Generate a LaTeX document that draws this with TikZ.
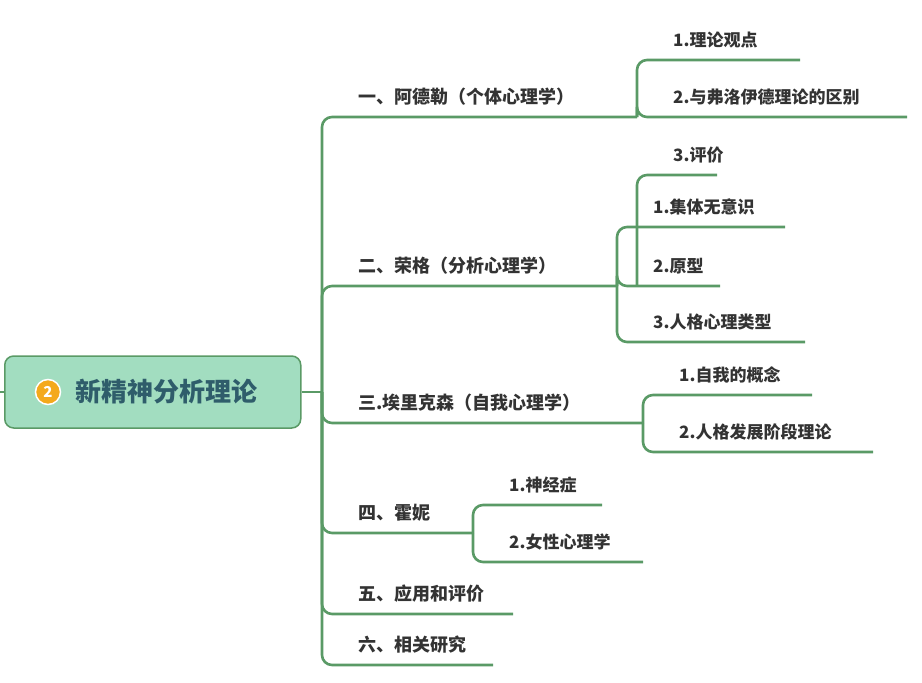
\documentclass[tikz,border=0pt]{standalone}
\usepackage{fontspec}
\setmainfont{Noto Sans CJK SC}
\usetikzlibrary{positioning}
\definecolor{linegreen}{HTML}{5A9A66}
\definecolor{rootfill}{HTML}{A2DDC0}
\definecolor{roottext}{HTML}{2F5D6B}
\definecolor{badge}{HTML}{F4A91C}
\begin{document}
\begin{tikzpicture}[x=1pt,y=-1pt,
		branch/.style={draw=linegreen,line width=2.6pt,rounded corners=10pt},
		toplabel/.style={anchor=base west,inner sep=0pt,font=\fontsize{18}{20}\selectfont\bfseries,text=black!80},
		sublabel/.style={anchor=base west,inner sep=0pt,font=\fontsize{17}{20}\selectfont\bfseries,text=black!80}
		]
	\useasboundingbox (0,0) rectangle (922,683);
	
	% root
	\draw[branch,rounded corners=0pt] (0,392) -- (6,392);
	\node[draw=linegreen,line width=1.5pt,fill=rootfill,rounded corners=9pt,minimum width=296pt,minimum height=72pt,anchor=west](root) at (4,392){};
	\node[circle,fill=badge,draw=white,line width=1.5pt,inner sep=0pt,minimum size=25pt,font=\fontsize{15}{15}\selectfont\bfseries,text=white](num) at (48,392){2};
	\node[right=14pt of num,inner sep=0pt,font=\fontsize{26}{28}\selectfont\bfseries,text=roottext](title){新精神分析理论};
	\coordinate (hub) at (322,392);
	\draw[branch] (root.east) -- (hub);
	
	% first level
	\foreach \y/\x/\t in {117/637/一、阿德勒（个体心理学）, 286/617/二、荣格（分析心理学）, 423/643/三.埃里克森（自我心理学）, 533/473/四、霍妮, 614/513/五、应用和评价, 665/493/六、相关研究}{
		\draw[branch] (hub) |- (\x,\y);
		\node[toplabel] at (358,\y-14) {\t};
	}
	
	% second level
	\foreach \v/\y/\e/\t in {637/60/800/1.理论观点, 637/117/907/2.与弗洛伊德理论的区别, 637/175/717/3.评价,
		617/227/785/1.集体无意识, 617/286/720/2.原型, 617/342/805/3.人格心理类型,
		643/395/812/1.自我的概念, 643/452/873/2.人格发展阶段理论,
		473/505/602/1.神经症, 473/562/643/2.女性心理学}{
		\pgfmathsetmacro{\mid}{(\y<150 ? 117 : (\y<350 ? 286 : (\y<460 ? 423 : 533)))}
		\draw[branch] (\v,\mid) |- (\e,\y);
		\node[sublabel] at (\v+36,\y-14) {\t};
	}
\end{tikzpicture}
\end{document}
